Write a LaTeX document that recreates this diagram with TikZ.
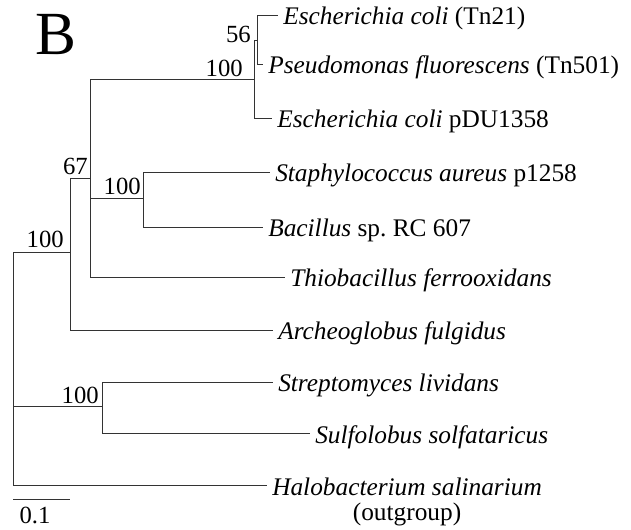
\documentclass[tikz,border=0pt]{standalone}
\usepackage{fontspec}
\setmainfont{Liberation Serif}
\usetikzlibrary{positioning}

\tikzset{
  branch/.style={draw=black!80, line width=0.7pt},
  leaf/.style={anchor=west, inner xsep=3.75pt, inner ysep=0pt, text height=15pt, text depth=0pt, font=\fontsize{19}{22}\selectfont},
  boot/.style={anchor=base east, inner sep=0pt, font=\fontsize{18.5}{21}\selectfont},
}

\begin{document}
\begin{tikzpicture}[x=0.75pt,y=0.75pt,yscale=-1,xscale=1]
\useasboundingbox (0,0) rectangle (631,530);

% Panel letter
\node [anchor=base west, inner sep=0pt, font=\fontsize{46}{50}\selectfont] (panel) at (35,55) {B};

% Inner nodes of the tree
\coordinate (root) at (13,406);
\coordinate (nA) at (70,252);
\coordinate (nB) at (90,178);
\coordinate (nC) at (254,79);
\coordinate (nE) at (257,40);
\coordinate (nD) at (143,198);
\coordinate (nS) at (102,406);

% Leaves
\node [leaf] (ecoli21) at (278,15) {\textit{Escherichia coli} (Tn21)};
\node [leaf] (pfluo) at (263,64) {\textit{Pseudomonas fluorescens} (Tn501)};
\node [leaf] (ecolipdu) at (272,118) {\textit{Escherichia coli} pDU1358};
\node [leaf] (saureus) at (270,172) {\textit{Staphylococcus aureus} p1258};
\node [leaf] (bacil) at (263,227) {\textit{Bacillus} sp.\ RC 607};
\node [leaf] (thiob) at (285,277) {\textit{Thiobacillus ferrooxidans}};
\node [leaf] (archeo) at (273,330) {\textit{Archeoglobus fulgidus}};
\node [leaf] (strep) at (273,382) {\textit{Streptomyces lividans}};
\node [leaf] (sulfo) at (310,433) {\textit{Sulfolobus solfataricus}};
\node [leaf] (halo) at (267,485) {\textit{Halobacterium salinarium}};
\node [leaf, anchor=north, below=3.5pt of halo] (outg) {(outgroup)};

% Branches
\draw [branch] (root) |- (nA);
\draw [branch] (root) |- (nS);
\draw [branch] (root) |- (halo.west);
\draw [branch] (nA) |- (nB);
\draw [branch] (nA) |- (archeo.west);
\draw [branch] (nB) |- (nC);
\draw [branch] (nB) |- (nD);
\draw [branch] (nB) |- (thiob.west);
\draw [branch] (nC) |- (nE);
\draw [branch] (nC) |- (ecolipdu.west);
\draw [branch] (nE) |- (ecoli21.west);
\draw [branch] (nE) |- (pfluo.west);
\draw [branch] (nD) |- (saureus.west);
\draw [branch] (nD) |- (bacil.west);
\draw [branch] (nS) |- (strep.west);
\draw [branch] (nS) |- (sulfo.west);

% Bootstrap values
\node [boot] (bs56) at (251,43) {56};
\node [boot] (bsC) at (243,77) {100};
\node [boot] (bs67) at (88,175) {67};
\node [boot] (bsD) at (141,195) {100};
\node [boot] (bsA) at (64,248) {100};
\node [boot] (bsS) at (99,403) {100};

% Scale bar
\coordinate (sbl) at (13,499);
\coordinate (sbr) at (70,499);
\draw [branch] (sbl) -- (sbr);
\node [anchor=base, inner sep=0pt, font=\fontsize{18.5}{22}\selectfont] (sblab) at (35,523) {0.1};

\end{tikzpicture}
\end{document}
